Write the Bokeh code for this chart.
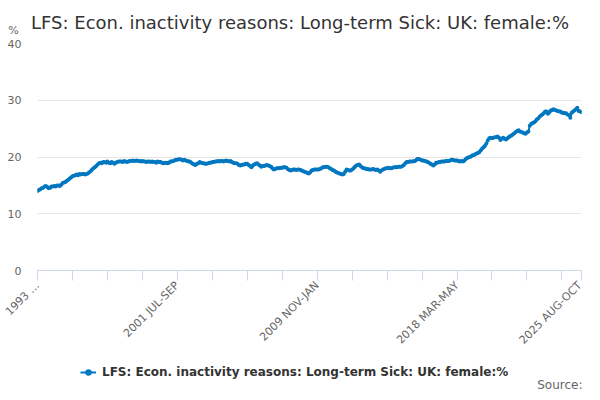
import math
from bokeh.plotting import figure
from bokeh.layouts import column
from bokeh.models import (ColumnDataSource, Range1d, FixedTicker, Label, Legend, LegendItem)
from bokeh.embed import file_html
from bokeh.resources import INLINE

# Rolling-quarter values, one row per year starting with the MAR-MAY quarter (1993 MAR-MAY .. 2025 AUG-OCT)
values_1993 = [14.0, 14.2, 14.3, 14.5, 14.6, 14.8, 14.9, 14.7, 14.5, 14.6, 14.8, 14.8]
values_1994 = [14.9, 14.8, 15.0, 15.0, 14.9, 15.1, 15.4, 15.5, 15.6, 15.8, 16.0, 16.2]
values_1995 = [16.4, 16.6, 16.7, 16.8, 16.9, 16.8, 17.0, 16.9, 17.0, 17.0, 16.9, 17.0]
values_1996 = [17.1, 17.3, 17.5, 17.8, 18.0, 18.2, 18.4, 18.7, 18.9, 19.0, 18.9, 19.1]
values_1997 = [19.1, 19.0, 19.2, 19.0, 18.9, 19.1, 19.0, 18.8, 19.0, 19.1, 19.2, 19.2]
values_1998 = [19.2, 19.1, 19.3, 19.2, 19.1, 19.2, 19.3, 19.3, 19.4, 19.3, 19.35, 19.4]
values_1999 = [19.3, 19.3, 19.2, 19.3, 19.2, 19.2, 19.1, 19.2, 19.2, 19.1, 19.2, 19.1]
values_2000 = [19.1, 19.0, 19.2, 19.1, 19.1, 19.0, 18.9, 19.0, 19.0, 18.9, 19.0, 19.2]
values_2001 = [19.2, 19.3, 19.4, 19.5, 19.5, 19.6, 19.6, 19.5, 19.4, 19.5, 19.4, 19.3]
values_2002 = [19.2, 19.2, 19.0, 18.8, 18.7, 18.6, 18.8, 18.9, 19.1, 19.0, 18.9, 18.9]
values_2003 = [18.8, 18.8, 18.9, 19.0, 19.0, 19.1, 19.1, 19.2, 19.2, 19.3, 19.2, 19.3]
values_2004 = [19.3, 19.2, 19.3, 19.4, 19.3, 19.2, 19.3, 19.1, 19.0, 18.9, 18.9, 18.8]
values_2005 = [18.6, 18.5, 18.6, 18.7, 18.7, 18.8, 18.8, 18.6, 18.4, 18.2, 18.5, 18.7]
values_2006 = [18.8, 18.9, 18.7, 18.5, 18.3, 18.4, 18.4, 18.5, 18.6, 18.5, 18.4, 18.3]
values_2007 = [18.0, 17.8, 17.9, 18.0, 18.0, 18.0, 18.1, 18.1, 18.2, 18.2, 18.1, 17.9]
values_2008 = [17.7, 17.6, 17.7, 17.8, 17.8, 17.7, 17.8, 17.8, 17.7, 17.6, 17.5, 17.4]
values_2009 = [17.3, 17.2, 17.1, 17.3, 17.6, 17.7, 17.8, 17.8, 17.8, 17.8, 17.9, 18.0]
values_2010 = [18.2, 18.2, 18.3, 18.3, 18.2, 18.0, 17.9, 17.7, 17.6, 17.4, 17.3, 17.2]
values_2011 = [17.1, 17.0, 16.9, 17.0, 17.4, 17.8, 17.7, 17.6, 17.6, 17.8, 18.0, 18.3]
values_2012 = [18.5, 18.6, 18.7, 18.4, 18.2, 18.0, 18.0, 17.9, 17.9, 17.8, 17.8, 17.8]
values_2013 = [17.9, 17.8, 17.7, 17.8, 17.6, 17.4, 17.6, 17.8, 17.9, 18.0, 18.0, 18.1]
values_2014 = [18.0, 18.0, 18.1, 18.2, 18.2, 18.2, 18.3, 18.3, 18.3, 18.4, 18.6, 18.9]
values_2015 = [19.1, 19.1, 19.2, 19.2, 19.2, 19.25, 19.3, 19.5, 19.7, 19.6, 19.5, 19.4]
values_2016 = [19.4, 19.3, 19.2, 19.1, 19.0, 18.8, 18.7, 18.5, 18.7, 19.0, 19.0, 19.1]
values_2017 = [19.1, 19.2, 19.2, 19.2, 19.3, 19.3, 19.3, 19.4, 19.5, 19.5, 19.4, 19.4]
values_2018 = [19.4, 19.3, 19.2, 19.3, 19.2, 19.3, 19.6, 19.8, 19.9, 20.0, 20.1, 20.3]
values_2019 = [20.3, 20.5, 20.6, 20.7, 20.9, 21.2, 21.5, 21.7, 22.0, 22.4, 22.9, 23.3]
values_2020 = [23.4, 23.3, 23.4, 23.5, 23.5, 23.6, 23.4, 23.0, 23.2, 23.4, 23.2, 23.1]
values_2021 = [23.3, 23.5, 23.7, 23.8, 24.0, 24.2, 24.4, 24.6, 24.7, 24.5, 24.4, 24.3]
values_2022 = [24.2, 24.1, 24.3, 24.5, 25.5, 25.8, 26.0, 26.1, 26.3, 26.6, 26.8, 27.1]
values_2023 = [27.3, 27.5, 27.7, 28.0, 28.0, 27.6, 27.9, 28.2, 28.3, 28.4, 28.3, 28.2]
values_2024 = [28.1, 28.0, 28.0, 27.8, 27.8, 27.7, 27.7, 27.5, 27.4, 26.9, 27.8, 28.0]
values_2025 = [28.2, 28.4, 28.7, 28.1, 28.0, 27.9]

yearly_rows = [values_1993, values_1994, values_1995, values_1996, values_1997, values_1998,
               values_1999, values_2000, values_2001, values_2002, values_2003, values_2004,
               values_2005, values_2006, values_2007, values_2008, values_2009, values_2010,
               values_2011, values_2012, values_2013, values_2014, values_2015, values_2016,
               values_2017, values_2018, values_2019, values_2020, values_2021, values_2022,
               values_2023, values_2024, values_2025]

series = [v for row in yearly_rows for v in row]
index = list(range(len(series)))

tick_positions = [0, 25, 50, 75, 100, 125, 150, 175, 200, 225, 250, 275, 300, 325, 350, 375, 389]
tick_labels = {0: "1993 \u2026", 100: "2001 JUL-SEP", 200: "2009 NOV-JAN",
               300: "2018 MAR-MAY", 389: "2025 AUG-OCT"}
y_ticks = [0, 10, 20, 30, 40]

title_text = "LFS: Econ. inactivity reasons: Long-term Sick: UK: female:%"
series_name = "LFS: Econ. inactivity reasons: Long-term Sick: UK: female:%"
unit_text = "%"
source_text = "Source:"

FONT = "DejaVu Sans"
LINE = "#0077c0"

W = 584
H_TOP = 38
H_MAIN = 317
H_LEG = 35
BORDER_L = 37
BORDER_R = 3


def strip(height):
    f = figure(width=W, height=height, output_backend="svg", toolbar_location=None,
               x_axis_location=None, y_axis_location=None,
               y_range=Range1d(0, height),
               min_border_left=0, min_border_right=0, min_border_top=0, min_border_bottom=0)
    f.grid.visible = False
    f.outline_line_color = None
    f.border_fill_color = "white"
    f.background_fill_color = "white"
    return f


t = strip(H_TOP)

p = figure(width=W, height=H_MAIN, output_backend="svg", toolbar_location=None, title=None,
           x_range=Range1d(0, len(series) - 1), y_range=Range1d(0, 40),
           min_border_left=BORDER_L, min_border_right=BORDER_R, min_border_top=5,
           min_border_bottom=85)

q = strip(H_LEG)

# keep each strip's frame independent of the chart's frame
unaligned = True
try:
    for f in (t, p, q):
        f.frame_align = False
except Exception:
    unaligned = False
fl = 0 if unaligned else BORDER_L
fr = W if unaligned else W - BORDER_R
for f in (t, q):
    f.x_range = Range1d(fl, fr)

# title strip
t.add_layout(Label(x=299.5, y=16, text=title_text, text_align="center", text_baseline="alphabetic",
                   text_font=FONT, text_font_size="18px", text_color="#333333"))
t.add_layout(Label(x=13, y=8.3, text=unit_text, text_align="center", text_baseline="middle",
                   text_font=FONT, text_font_size="11px", text_color="#666666"))

# main chart
p.outline_line_color = None
p.background_fill_color = "white"
p.border_fill_color = "white"

src = ColumnDataSource(dict(x=index, y=series))
p.line("x", "y", source=src, line_color=LINE, line_width=2)
p.scatter("x", "y", source=src, size=4, fill_color=LINE, line_color=None)

xa = p.xaxis[0]
xa.ticker = FixedTicker(ticks=tick_positions)
xa.major_label_overrides = {tk: tick_labels.get(tk, "") for tk in tick_positions}
xa.major_label_orientation = math.pi / 4
xa.major_label_text_font = FONT
xa.major_label_text_font_size = "11px"
xa.major_label_text_color = "#666666"
xa.major_label_standoff = 3
xa.axis_line_color = "#ccd6eb"
xa.major_tick_line_color = "#ccd6eb"
xa.major_tick_out = 10
xa.major_tick_in = 0
xa.minor_tick_line_color = None

ya = p.yaxis[0]
ya.ticker = FixedTicker(ticks=y_ticks)
ya.axis_line_color = None
ya.major_tick_line_color = None
ya.minor_tick_line_color = None
ya.major_tick_out = 0
ya.major_tick_in = 0
ya.major_label_standoff = 16
ya.major_label_text_font = FONT
ya.major_label_text_font_size = "11px"
ya.major_label_text_color = "#666666"

p.xgrid.grid_line_color = None
p.ygrid.grid_line_color = "#e6e6e6"
p.ygrid.ticker = FixedTicker(ticks=y_ticks)

# legend strip: the legend renderers share the series data but are hidden
l1 = q.line("x", "y", source=src, line_color=LINE, line_width=2, visible=False)
l2 = q.scatter("x", "y", source=src, size=4, fill_color=LINE, line_color=None, visible=False)
legend = Legend(items=[LegendItem(label=series_name, renderers=[l1, l2])],
                location=(80 - fl, 8), orientation="horizontal",
                label_text_font=FONT, label_text_font_size="12px", label_text_font_style="bold",
                label_text_color="#333333", border_line_color=None, background_fill_alpha=0,
                inactive_fill_alpha=0, glyph_width=16, label_standoff=6,
                margin=0, padding=0, spacing=0)
q.add_layout(legend, "center")
q.add_layout(Label(x=min(582, fr - 1), y=6, text=source_text, text_align="right",
                   text_baseline="middle", text_font=FONT, text_font_size="12px",
                   text_color="#666666"))

open("out.html", "w").write(file_html(column(t, p, q, spacing=0), INLINE))
